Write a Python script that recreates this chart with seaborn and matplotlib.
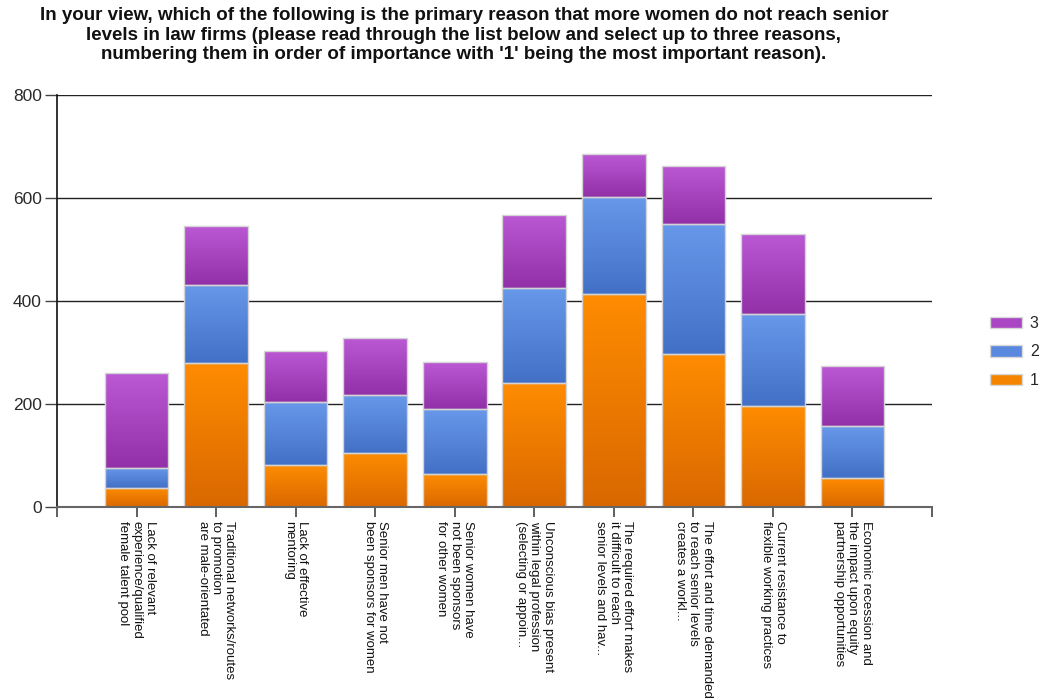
import numpy as np
import pandas as pd
import matplotlib
matplotlib.use("Agg")
import matplotlib.pyplot as plt
from matplotlib.colors import LinearSegmentedColormap
from matplotlib.patches import Rectangle
import seaborn as sns

categories = [
    "Lack of relevant\nexperience/qualified\nfemale talent pool",
    "Traditional networks/routes\nto promotion\nare male-orientated",
    "Lack of effective\nmentoring",
    "Senior men have not\nbeen sponsors for women",
    "Senior women have\nnot been sponsors\nfor other women",
    "Unconscious bias present\nwithin legal profession\n(selecting or appoin...",
    "The required effort makes\nit difficult to reach\nsenior levels and hav...",
    "The effort and time demanded\nto reach senior levels\ncreates a workl...",
    "Current resistance to\nflexible working practices",
    "Economic recession and\nthe impact upon equity\npartnership opportunities",
]
rank1 = [37, 279, 81, 105, 64, 240, 414, 296, 196, 56]
rank2 = [39, 152, 122, 112, 126, 184, 188, 253, 178, 101]
rank3 = [183, 114, 100, 110, 91, 143, 83, 114, 156, 116]
series_names = ["1", "2", "3"]
y_ticks = [0, 200, 400, 600, 800]

title = ("In your view, which of the following is the primary reason that more women do not reach senior\n"
         "levels in law firms (please read through the list below and select up to three reasons,\n"
         "numbering them in order of importance with '1' being the most important reason).")

# gradient colours (top, bottom) per series
grad = {
    "1": ("#FF8C00", "#D96800"),
    "2": ("#6898EA", "#4270C6"),
    "3": ("#BB58D4", "#9230A8"),
}
legend_col = {"1": "#F58500", "2": "#5A88DE", "3": "#AA45C4"}

sns.set_style("white")
plt.rcParams['font.family'] = ['Liberation Sans', 'DejaVu Sans']

fig = plt.figure(figsize=(10.43, 6.98), dpi=100)
ax = fig.add_axes([57 / 1043, 1 - 506.7 / 698, (932 - 57) / 1043, (506.7 - 95) / 698])

xs = list(range(len(categories)))
values = [rank1, rank2, rank3]
bottoms = np.zeros(len(categories))
seg_patches = []
for name, vals in zip(series_names, values):
    df = pd.DataFrame({"x": xs, "v": vals})
    n_before = len(ax.patches)
    sns.barplot(data=df, x="x", y="v", ax=ax, bottom=bottoms.copy(), width=0.8,
                color=legend_col[name], order=xs, native_scale=True, errorbar=None,
                edgecolor="#D4D4D4", linewidth=1.0)
    for p in ax.patches[n_before:]:
        seg_patches.append((name, p))
    bottoms = bottoms + np.array(vals)

# gradient fill clipped to each segment
g = np.linspace(0, 1, 256).reshape(-1, 1)
for name, p in seg_patches:
    top_c, bot_c = grad[name]
    cmap = LinearSegmentedColormap.from_list("g" + name, [top_c, bot_c])
    x0, y0 = p.get_x(), p.get_y()
    w, h = p.get_width(), p.get_height()
    im = ax.imshow(g, extent=[x0, x0 + w, y0, y0 + h], origin="upper", cmap=cmap,
                   aspect="auto", zorder=2, interpolation="bilinear")
    im.set_clip_path(p)
    p.set_facecolor("none")
    p.set_zorder(3)

ax.set_xlim(-1, len(categories))
ax.set_ylim(0, 800)
ax.set_yticks(y_ticks)
ax.set_yticklabels([str(t) for t in y_ticks], fontsize=12.5, color="#2a2a2a")
ax.set_xticks(xs)
ax.set_xticklabels(categories, rotation=270, fontsize=9.5, color="#111111",
                   ha="center", va="top", multialignment="left", linespacing=1.15)
ax.set_xticks([-1, len(categories)], minor=True)
ax.set_xlabel("")
ax.set_ylabel("")

ax.grid(False)
for t in y_ticks[1:]:
    ax.axhline(t, color="#222222", linewidth=1.0, zorder=1)

for s in ["top", "right"]:
    ax.spines[s].set_visible(False)
ax.spines["left"].set_color("#111111")
ax.spines["left"].set_linewidth(1.2)
ax.spines["left"].set_zorder(4)
ax.spines["bottom"].set_color("#666666")
ax.spines["bottom"].set_linewidth(1.5)
ax.spines["bottom"].set_zorder(4)
ax.tick_params(axis="y", which="major", length=9, width=1.0, color="#444444", pad=2, left=True)
ax.tick_params(axis="x", which="both", length=7, width=1.2, color="#444444", pad=3, bottom=True)

# legend
handles = [Rectangle((0, 0), 1, 1, facecolor=legend_col[n], edgecolor="#D8D8D8", linewidth=1.0)
           for n in ["3", "2", "1"]]
fig.legend(handles, ["3", "2", "1"], loc="center left", bbox_to_anchor=(990 / 1043, 1 - 352 / 698),
           frameon=False, fontsize=11.5, handlelength=2.0, handleheight=0.7,
           labelspacing=0.85, handletextpad=0.5, borderaxespad=0, borderpad=0)

fig.text(464 / 1043, 1 - 7 / 698, title, ha="center", va="top", fontsize=13.5,
         fontweight="bold", color="#111111", multialignment="center", linespacing=1.2)

fig.savefig("out.png", dpi=100, facecolor="white")
